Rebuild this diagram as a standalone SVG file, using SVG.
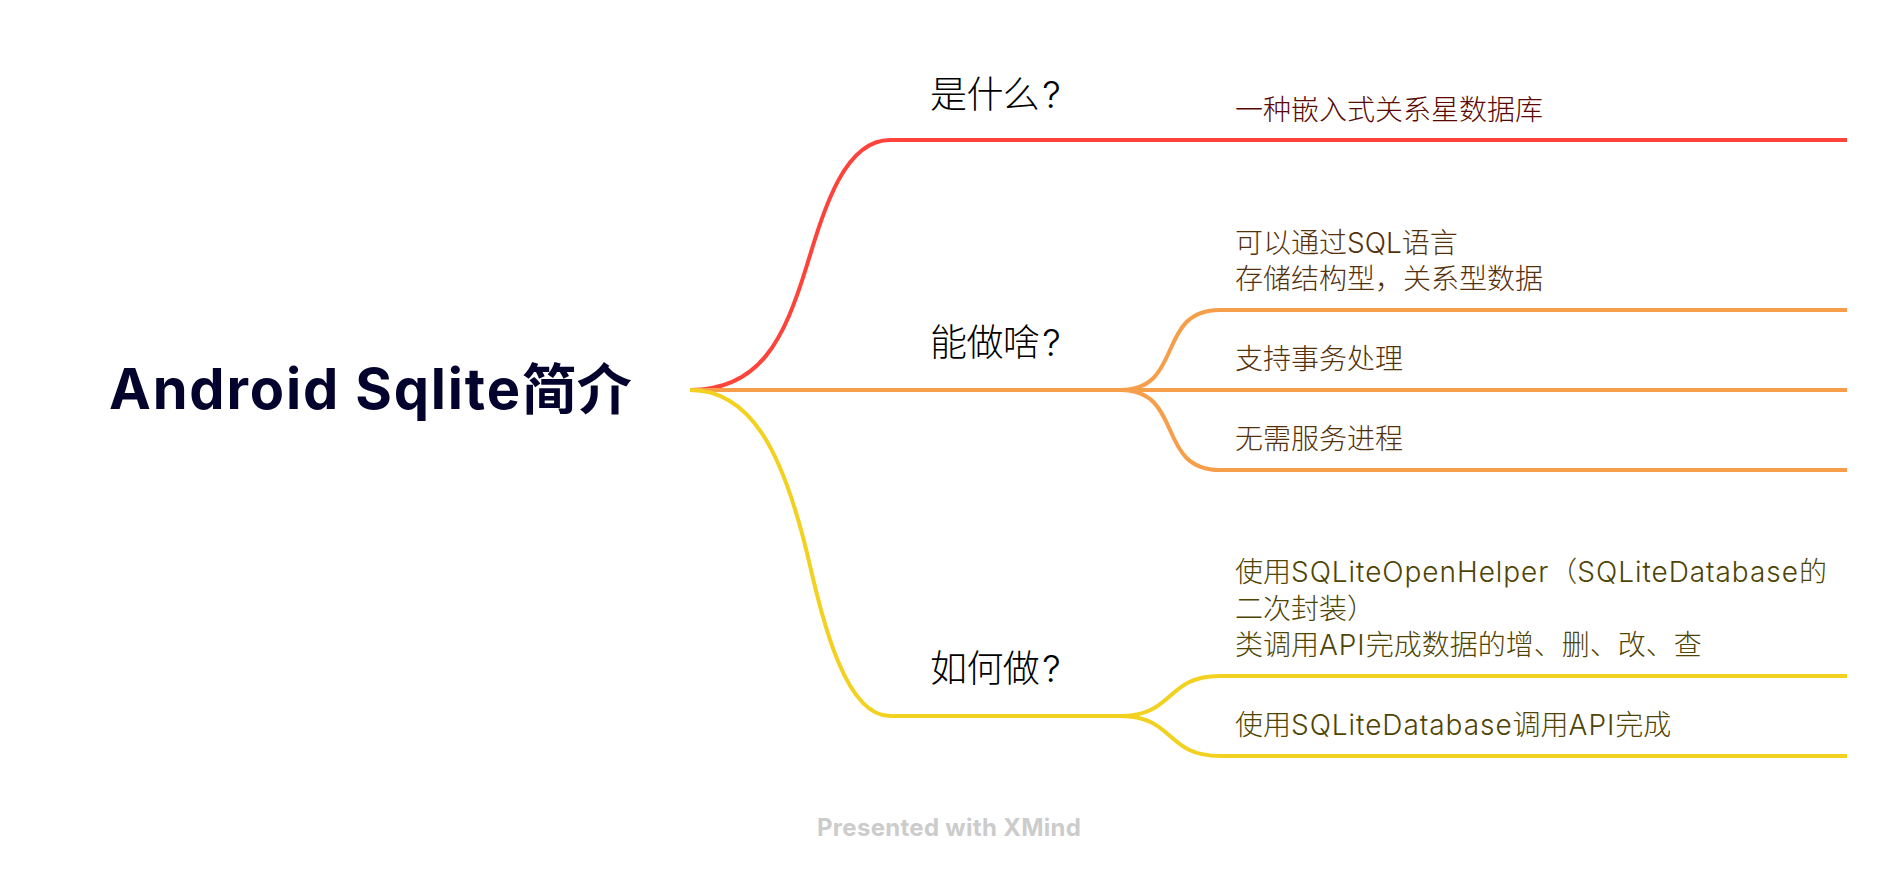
<svg xmlns="http://www.w3.org/2000/svg" width="1898" height="878" viewBox="0 0 1898 878">
<style>
text{font-family:"Inter","Noto Sans CJK SC",sans-serif;white-space:pre}
.c{fill:none;stroke-width:4;stroke-linecap:butt}
.r{stroke:#fe433b}.o{stroke:#f79e4b}.y{stroke:#f2d120}
.t{font-size:37px;fill:#000;letter-spacing:-.6px;font-weight:300}
.s{font-size:28px;font-weight:300}
.sr{fill:#5a0804}.so{fill:#55300c}.sy{fill:#4f4404}
.l{letter-spacing:.95px}
</style>
<rect width="1898" height="878" fill="#fff"/>
<g id="connectors">
<path class="c r" d="M690 390C760 390 784 340 807 265C825 206 845 140 890 140H1847"/>
<path class="c o" d="M690 390H1847M1120 390C1185 390 1155 310 1220 310H1847M1120 390C1185 390 1155 470 1220 470H1847"/>
<path class="c y" d="M690 390C750 390 782 450 807 553C821 612 843 716 890 716H1120C1175 716 1165 676 1220 676H1847M1120 716C1175 716 1165 756 1220 756H1847"/>
</g>
<g id="root"><text x="109" y="409" font-size="56" font-weight="700" fill="#03032e"><tspan textLength="411">Android Sqlite</tspan><tspan font-size="55">简介</tspan></text></g>
<g id="n1"><text class="t" x="930" y="108">是什么<tspan dx="3">?</tspan></text></g>
<g id="n1-1"><text class="s sr" x="1235" y="120">一种嵌入式关系星数据库</text></g>
<g id="n2"><text class="t" x="930" y="356">能做啥<tspan dx="3">?</tspan></text></g>
<g id="n2-1"><text class="s so" x="1235" y="252.5">可以通过SQL语言</text><text class="s so" x="1235" y="289">存储结构型，关系型数据</text></g>
<g id="n2-2"><text class="s so" x="1235" y="369">支持事务处理</text></g>
<g id="n2-3"><text class="s so" x="1235" y="449">无需服务进程</text></g>
<g id="n3"><text class="t" x="930" y="682">如何做<tspan dx="3">?</tspan></text></g>
<g id="n3-1"><text class="s sy" x="1235" y="582">使用<tspan class="l">SQLiteOpenHelper</tspan>（<tspan class="l">SQLiteDatabase</tspan>的</text><text class="s sy" x="1235" y="619">二次封装）</text><text class="s sy" x="1235" y="655">类调用<tspan class="l">API</tspan>完成数据的增、删、改、查</text></g>
<g id="n3-2"><text class="s sy" x="1235" y="735">使用<tspan class="l">SQLiteDatabase</tspan>调用<tspan class="l">API</tspan>完成</text></g>
<g id="footer"><text x="817" y="836" font-size="24" font-weight="700" fill="#ccc" textLength="264">Presented with XMind</text></g>
</svg>
